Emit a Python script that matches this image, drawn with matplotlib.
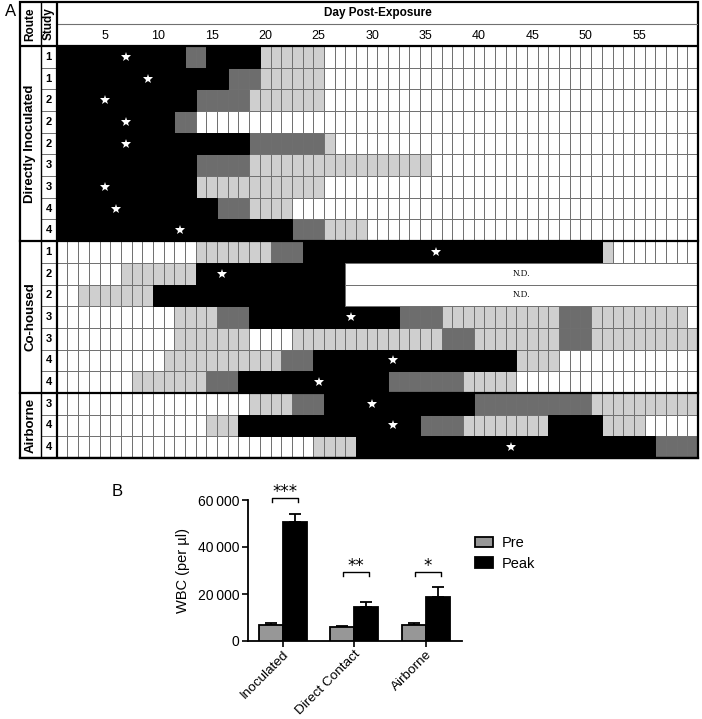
import matplotlib
matplotlib.use('Agg')
import matplotlib.pyplot as plt
from matplotlib.patches import Rectangle

plt.rcParams['font.family'] = ['Liberation Sans', 'DejaVu Sans']

# ---------------- panel A data ----------------
routes = ['Directly Inoculated', 'Co-housed', 'Airborne']
route_sizes = [9, 7, 3]
studies = [1, 1, 2, 2, 2, 3, 3, 4, 4, 1, 2, 2, 3, 3, 4, 4, 3, 4, 4]
# runs of days from day 1: W white, L light gray, D dark gray, K black
runs = [
    "K12 D2 K5 L6 W35",
    "K16 D3 L6 W35",
    "K13 D5 L7 W35",
    "K11 D2 W47",
    "K18 D7 L1 W34",
    "K13 D5 L17 W25",
    "K13 L12 W35",
    "K15 D3 L4 W38",
    "K22 D3 L4 W31",
    "W13 L7 D3 K28 L1 W8",
    "W6 L7 K14",
    "W2 L7 K18",
    "W11 L4 D3 K14 D4 L11 D3 L9 W1",
    "W11 L7 W4 L14 D3 L8 D3 L10",
    "W10 L11 D3 K19 L4 W13",
    "W7 L7 D3 K14 D7 L5 W17",
    "W18 L4 D3 K14 D11 L10",
    "W14 L3 K17 D4 L8 K5 L4 W5",
    "W24 L4 K28 D4",
]
star_days = [7, 9, 5, 7, 7, None, 5, 6, 12, 36, 16, None, 28, None, 32, 25, 30, 32, 43]
nd_rows = [10, 11]
nd_start = 28
n_days = 60
day_ticks = [5, 10, 15, 20, 25, 30, 35, 40, 45, 50, 55]

# ---------------- panel B data ----------------
groups = ['Inoculated', 'Direct Contact', 'Airborne']
pre = [7000, 6000, 6700]
pre_err = [500, 500, 1100]
peak = [50800, 14600, 18900]
peak_err = [3400, 2100, 4000]
signif = ['***', '**', '*']
bracket_y = [60900, 29400, 29400]

colors = {'W': 'white', 'L': '#cfcfcf', 'D': '#6d6d6d', 'K': 'black'}
grid_col = '#707070'

fig = plt.figure(figsize=(7.02, 7.19), dpi=100)

# ---------------- panel A ----------------
ax = fig.add_axes([20 / 702, 1 - 458 / 719, 678 / 702, 456 / 719])
x0, ytop = -2.94, -2.03
ax.set_xlim(x0, n_days + 0.5)
ax.set_ylim(len(runs), ytop)
ax.axis('off')

black_cells = []
for r, spec in enumerate(runs):
    day = 1
    for tok in spec.split():
        c, n = tok[0], int(tok[1:])
        for d in range(day, day + n):
            if c == 'K':
                black_cells.append((d, r))
            else:
                ax.add_patch(Rectangle((d - 0.5, r), 1, 1, facecolor=colors[c],
                                       edgecolor=grid_col, lw=0.7))
        day += n
for d, r in black_cells:
    ax.add_patch(Rectangle((d - 0.5, r), 1, 1, facecolor='black', edgecolor='black', lw=0.7))

for r in nd_rows:
    ax.add_patch(Rectangle((nd_start - 0.5, r), n_days - nd_start + 1, 1,
                           facecolor='white', edgecolor=grid_col, lw=0.7))
    ax.text((nd_start + n_days) / 2, r + 0.5, 'N.D.', ha='center', va='center',
            fontsize=6.5, family=['Liberation Serif', 'DejaVu Serif'])

for r, d in enumerate(star_days):
    if d is not None:
        ax.plot(d, r + 0.5, marker='*', color='white', ms=7.5, mew=0)

# study column
for r, s in enumerate(studies):
    ax.text(-0.25, r + 0.5, str(s), ha='center', va='center', fontsize=8, fontweight='bold')
    ax.plot([-1.0, 0.5], [r + 1, r + 1], color=grid_col, lw=0.7)

# route labels and group dividers
start = 0
for name, size in zip(routes, route_sizes):
    ax.text(-1.97, start + size / 2, name, rotation=90, ha='center', va='center',
            fontsize=9.5, fontweight='bold')
    start += size
    ax.plot([x0, n_days + 0.5], [start, start], color='black', lw=1.6, clip_on=False)

# header
ax.text((n_days + 1) / 2, -1.5, 'Day Post-Exposure', ha='center', va='center',
        fontsize=8.5, fontweight='bold')
for d in day_ticks:
    ax.text(d, -0.47, str(d), ha='center', va='center', fontsize=9)
ax.text(-1.97, ytop / 2, 'Route', rotation=90, ha='center', va='center',
        fontsize=8.5, fontweight='bold')
ax.text(-0.25, ytop / 2, 'Study', rotation=90, ha='center', va='center',
        fontsize=8.5, fontweight='bold')
ax.plot([0.5, n_days + 0.5], [-1.0, -1.0], color=grid_col, lw=0.8)
ax.plot([x0, n_days + 0.5], [0, 0], color='black', lw=1.6)
ax.plot([-1.0, -1.0], [ytop, len(runs)], color='black', lw=1.0)
ax.plot([0.5, 0.5], [ytop, len(runs)], color='black', lw=1.6)
ax.add_patch(Rectangle((x0, ytop), n_days + 0.5 - x0, len(runs) - ytop, fill=False,
                       edgecolor='black', lw=1.6, clip_on=False))

fig.text(5 / 702, 1 - 12 / 719, 'A', fontsize=12, ha='left', va='center')

# ---------------- panel B ----------------
bx = fig.add_axes([248 / 702, 1 - 641 / 719, 213.7 / 702, 141 / 719])
xs = list(range(len(groups)))
w = 0.335
xp = [x - w / 2 for x in xs]
xk = [x + w / 2 for x in xs]
b1 = bx.bar(xp, pre, width=w, color='#979797', edgecolor='black', lw=1.3, label='Pre', zorder=3)
b2 = bx.bar(xk, peak, width=w, color='black', edgecolor='black', lw=1.3, label='Peak', zorder=3)
bx.errorbar(xp, pre, yerr=[[0] * 3, pre_err], fmt='none', ecolor='black',
            elinewidth=1.3, capsize=4.3, capthick=1.3, zorder=2)
bx.errorbar(xk, peak, yerr=[[0] * 3, peak_err], fmt='none', ecolor='black',
            elinewidth=1.3, capsize=4.3, capthick=1.3, zorder=2)

for x, s, y in zip(xs, signif, bracket_y):
    xa, xb = x - 0.155, x + 0.21
    bx.plot([xa, xa, xb, xb], [y - 1800, y, y, y - 1800], color='black', lw=1.0, clip_on=False)
    bx.text((xa + xb) / 2, y + 200, s, ha='center', va='baseline', fontsize=12,
            family=['DejaVu Sans'], clip_on=False)

bx.set_xlim(-0.485, 2.503)
bx.set_ylim(0, 60000)
bx.set_yticks([0, 20000, 40000, 60000])
bx.set_yticklabels(['0', '20\u2009000', '40\u2009000', '60\u2009000'], fontsize=10)
bx.set_xticks(xs)
bx.set_xticklabels(groups, rotation=45, ha='right', rotation_mode='anchor', fontsize=9.7)
bx.set_ylabel('WBC (per \u00b5l)', fontsize=10.5, labelpad=6)
for sp in ['top', 'right']:
    bx.spines[sp].set_visible(False)
for sp in ['left', 'bottom']:
    bx.spines[sp].set_linewidth(1.3)
bx.tick_params(axis='both', length=4, width=1.2, pad=2)
bx.tick_params(axis='x', pad=1.5)

fig.legend([b1, b2], ['Pre', 'Peak'], loc='upper left',
           bbox_to_anchor=(475 / 702, 1 - 536 / 719), frameon=False, fontsize=10.5,
           handlelength=1.25, handleheight=0.7, labelspacing=0.45, handletextpad=0.6,
           borderpad=0, borderaxespad=0)

fig.text(117 / 702, 1 - 492 / 719, 'B', fontsize=12, ha='center', va='center')

fig.savefig('out.png', dpi=100)
